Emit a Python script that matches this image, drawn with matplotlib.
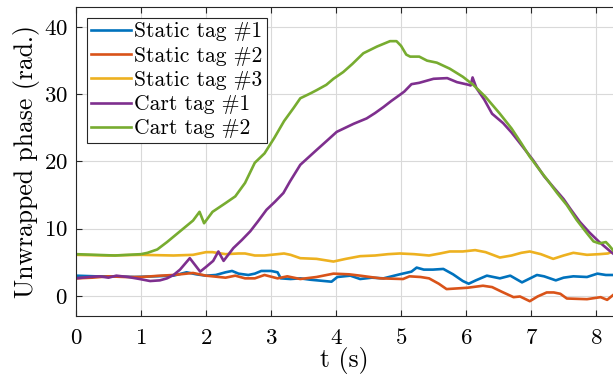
import numpy as np
import matplotlib
matplotlib.use("Agg")
import matplotlib.pyplot as plt

plt.rcParams['font.family'] = 'serif'
plt.rcParams['font.serif'] = ['cmr10']
plt.rcParams['mathtext.fontset'] = 'cm'
plt.rcParams['axes.formatter.use_mathtext'] = True

# Static tag #1
t1 = [0, 0.3, 0.6, 0.9, 1.2, 1.5, 1.7, 1.85, 2.0, 2.15, 2.3, 2.4, 2.5, 2.65, 2.75, 2.85, 3.0, 3.1, 3.15,
      3.3, 3.45, 3.6, 3.93, 4.02, 4.22, 4.37, 4.55, 4.73, 4.98, 5.16, 5.24, 5.35, 5.49, 5.65, 5.8, 5.95,
      6.04, 6.15, 6.32, 6.52, 6.68, 6.86, 7.09, 7.2, 7.38, 7.5, 7.65, 7.86, 8.02, 8.15, 8.26]
y1 = [3.0, 2.9, 2.9, 2.8, 2.9, 3.0, 3.5, 3.2, 3.0, 3.1, 3.5, 3.7, 3.3, 3.1, 3.3, 3.7, 3.7, 3.5, 2.6,
      2.5, 2.6, 2.4, 2.1, 2.8, 3.0, 2.5, 2.7, 2.6, 3.2, 3.6, 4.2, 3.9, 3.9, 4.0, 3.2, 2.2,
      1.8, 2.3, 3.0, 2.6, 3.0, 2.0, 3.1, 2.9, 2.3, 2.7, 2.9, 2.8, 3.3, 3.1, 3.1]

# Static tag #2
t2 = [0, 0.25, 0.5, 0.75, 1.0, 1.15, 1.3, 1.5, 1.8, 2.0, 2.3, 2.45, 2.6, 2.75, 2.9, 3.1, 3.25, 3.45,
      3.7, 3.96, 4.2, 4.37, 4.68, 5.03, 5.13, 5.3, 5.43, 5.58, 5.7, 6.02, 6.26, 6.4, 6.55, 6.73, 6.83,
      6.98, 7.1, 7.24, 7.35, 7.45, 7.55, 7.86, 8.07, 8.17, 8.26]
y2 = [2.6, 2.7, 2.9, 2.8, 2.8, 2.9, 3.0, 3.1, 3.4, 3.0, 2.7, 3.0, 2.6, 2.6, 3.1, 2.6, 2.9, 2.5,
      2.8, 3.3, 3.2, 3.0, 2.6, 2.5, 2.9, 2.8, 2.6, 1.8, 1.0, 1.2, 1.5, 1.3, 0.6, -0.2, -0.1,
      -0.8, -0.1, 0.5, 0.5, 0.3, -0.4, -0.5, -0.2, -0.6, 0.1]

# Static tag #3
t3 = [0, 0.5, 1.0, 1.5, 1.8, 2.0, 2.1, 2.3, 2.5, 2.6, 2.75, 2.9, 3.0, 3.2, 3.3, 3.45, 3.7, 3.96, 4.15,
      4.37, 4.6, 4.8, 4.98, 5.2, 5.43, 5.6, 5.75, 5.95, 6.14, 6.3, 6.52, 6.7, 6.85, 6.98, 7.15, 7.34,
      7.5, 7.65, 7.86, 8.05, 8.18, 8.26]
y3 = [6.1, 6.0, 6.1, 6.0, 6.1, 6.5, 6.5, 6.2, 6.3, 6.3, 6.0, 6.0, 6.1, 6.3, 6.1, 5.6, 5.5, 5.1, 5.5,
      5.9, 6.0, 6.2, 6.3, 6.2, 6.0, 6.3, 6.6, 6.6, 6.8, 6.5, 5.7, 6.0, 6.4, 6.6, 6.2, 5.5,
      6.0, 6.4, 6.1, 6.2, 6.3, 6.6]

# Cart tag #1
t4 = [0, 0.2, 0.36, 0.5, 0.62, 0.8, 0.98, 1.14, 1.29, 1.4, 1.5, 1.6, 1.75, 1.91, 2.0, 2.11, 2.19, 2.27,
      2.42, 2.55, 2.68, 2.8, 2.93, 3.06, 3.19, 3.29, 3.45, 3.7, 3.85, 4.01, 4.27, 4.47, 4.6, 4.73, 4.85,
      4.98, 5.05, 5.16, 5.28, 5.5, 5.71, 5.86, 6.04, 6.07, 6.1, 6.16, 6.28, 6.4, 6.57, 6.7, 6.83, 7.03,
      7.2, 7.34, 7.5, 7.6, 7.75, 7.9, 8.05, 8.22, 8.26]
y4 = [2.6, 2.8, 2.9, 2.7, 3.0, 2.8, 2.5, 2.2, 2.3, 2.6, 3.1, 3.9, 5.6, 3.6, 4.3, 5.2, 6.6, 5.2,
      7.1, 8.3, 9.6, 11.1, 12.8, 14.0, 15.3, 17.0, 19.5, 21.7, 23.0, 24.4, 25.6, 26.4, 27.2, 28.1, 29.0,
      29.9, 30.4, 31.5, 31.7, 32.3, 32.4, 31.8, 31.4, 31.3, 32.5, 30.9, 29.2, 27.1, 25.7, 24.3, 22.7, 20.2,
      17.8, 16.2, 14.4, 13.0, 11.0, 9.4, 8.0, 6.6, 6.3]

# Cart tag #2
t5 = [0, 0.3, 0.6, 0.8, 1.0, 1.1, 1.25, 1.4, 1.55, 1.7, 1.8, 1.9, 1.97, 2.1, 2.3, 2.45, 2.6, 2.75, 2.9,
      3.05, 3.2, 3.35, 3.45, 3.6, 3.7, 3.85, 3.96, 4.11, 4.25, 4.42, 4.63, 4.83, 4.93, 5.0, 5.08, 5.14,
      5.28, 5.4, 5.55, 5.75, 5.95, 6.11, 6.3, 6.52, 6.7, 6.85, 6.98, 7.15, 7.27, 7.4, 7.55, 7.7, 7.86,
      7.96, 8.05, 8.15, 8.2, 8.26]
y5 = [6.2, 6.1, 6.0, 6.1, 6.2, 6.4, 6.9, 8.0, 9.2, 10.4, 11.2, 12.5, 10.8, 12.5, 13.8, 14.8, 16.8, 19.8, 21.2,
      23.5, 26.0, 28.0, 29.4, 30.1, 30.6, 31.4, 32.3, 33.3, 34.5, 36.1, 37.1, 37.9, 37.9, 37.2, 35.9, 35.6,
      35.6, 35.0, 34.7, 33.8, 32.6, 31.4, 29.6, 27.1, 24.9, 22.7, 20.7, 18.5, 17.0, 15.3, 13.5, 11.3, 9.3,
      8.1, 7.8, 8.0, 7.5, 6.8]

labels = ['Static tag #1', 'Static tag #2', 'Static tag #3', 'Cart tag #1', 'Cart tag #2']
colors = ['#0072BD', '#D95319', '#EDB120', '#7E2F8E', '#77AC30']

fig = plt.figure(figsize=(6.13, 3.83), dpi=100)
ax = fig.add_axes([0.124, 0.175, 0.876, 0.807])

for t, y, lab, c in zip([t1, t2, t3, t4, t5], [y1, y2, y3, y4, y5], labels, colors):
    ax.plot(t, y, color=c, lw=1.9, label=lab)

ax.set_xlim(0, 8.26)
ax.set_ylim(-3, 43)
ax.set_xticks(range(0, 9))
ax.set_yticks([0, 10, 20, 30, 40])
ax.grid(True, color='#d9d9d9', lw=0.8)
ax.set_axisbelow(True)
ax.tick_params(direction='in', top=True, right=False, labelsize=16.5, length=4, color='#262626')
ax.tick_params(axis='x', pad=9)
ax.tick_params(axis='y', pad=6)
for s in ['left', 'bottom', 'top']:
    ax.spines[s].set_color('#262626')
ax.spines['right'].set_visible(False)

ax.set_xlabel('t (s)', fontsize=18.5, labelpad=-1)
ax.set_ylabel('Unwrapped phase (rad.)', fontsize=18.5, labelpad=3)

leg = ax.legend(loc='upper left', fontsize=15.5, handlelength=1.85, handletextpad=0.15,
                labelspacing=0.22, borderpad=0.2, borderaxespad=0.5, fancybox=False, framealpha=1)
leg.get_frame().set_edgecolor('#262626')
leg.get_frame().set_linewidth(0.8)

fig.savefig('out.png', dpi=100)
